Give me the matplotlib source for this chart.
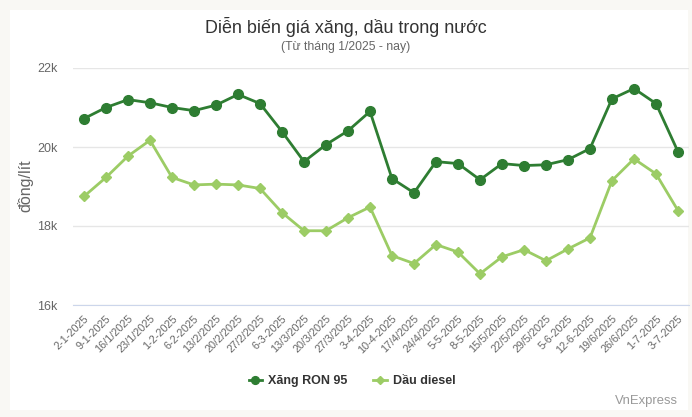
import matplotlib.pyplot as plt
from matplotlib.patches import Rectangle

dates = ["2-1-2025", "9-1-2025", "16/1/2025", "23/1/2025", "1-2-2025", "6-2-2025",
         "13/2/2025", "20/2/2025", "27/2/2025", "6-3-2025", "13/3/2025", "20/3/2025",
         "27/3/2025", "3-4-2025", "10-4-2025", "17/4/2025", "24/4/2025", "5-5-2025",
         "8-5-2025", "15/5/2025", "22/5/2025", "29/5/2025", "5-6-2025", "12-6-2025",
         "19/6/2025", "26/6/2025", "1-7-2025", "3-7-2025"]
ron95 = [20720, 21000, 21200, 21120, 21000, 20920, 21060, 21330, 21100, 20390,
         19630, 20060, 20410, 20900, 19200, 18840, 19630, 19580, 19170, 19580,
         19530, 19550, 19680, 19960, 21220, 21480, 21100, 19880]
diesel = [18750, 19230, 19770, 20170, 19230, 19040, 19060, 19040, 18950, 18340,
          17880, 17880, 18210, 18480, 17250, 17050, 17530, 17340, 16790, 17220,
          17400, 17120, 17420, 17700, 19150, 19700, 19320, 18390]
yticks = [16000, 18000, 20000, 22000]

plt.rcParams['font.family'] = ['Liberation Sans', 'DejaVu Sans']
dark = '#2e7d32'
light = '#9ccc65'

fig = plt.figure(figsize=(6.92, 4.17), dpi=100)
fig.patch.set_facecolor('#f9f8f4')
fig.patches.append(Rectangle((10 / 692, 1 - 410 / 417), 678 / 692, 400 / 417,
                             transform=fig.transFigure, facecolor='white',
                             edgecolor='none', zorder=-10))

ax = fig.add_axes([73 / 692, 1 - 305 / 417, 616 / 692, 237 / 417])
ax.set_facecolor('none')
x = list(range(len(dates)))
ax.plot(x, ron95, color=dark, lw=2, marker='o', ms=7, label='Xăng RON 95', zorder=3)
ax.plot(x, diesel, color=light, lw=2, marker='D', ms=5, label='Dầu diesel', zorder=3)

ax.set_xlim(-0.5, len(dates) - 0.5)
ax.set_ylim(16000, 22000)
ax.set_yticks(yticks)
ax.set_yticklabels([f"{v // 1000}k" for v in yticks])
ax.grid(axis='y', color='#e6e6e6', lw=1)
ax.set_axisbelow(True)
for s in ['top', 'right', 'left']:
    ax.spines[s].set_visible(False)
ax.spines['bottom'].set_color('#ccd6eb')
ax.set_xticks(x)
ax.set_xticklabels(dates, rotation=45, ha='right', rotation_mode='anchor')
ax.tick_params(axis='x', length=0, pad=6, labelsize=7.8, colors='#666666')
ax.tick_params(axis='y', length=0, pad=11, labelsize=9, colors='#666666')
fig.text(25 / 692, 1 - 186 / 417, 'đồng/lít', rotation=90, ha='center', va='center',
         fontsize=11.5, color='#666666')

fig.text(0.5, 1 - 27 / 417, 'Diễn biến giá xăng, dầu trong nước', ha='center',
         va='center', fontsize=12.9, color='#333333')
fig.text(0.5, 1 - 47 / 417, '(Từ tháng 1/2025 - nay)', ha='center', va='center',
         fontsize=8.8, color='#666666')

leg = fig.legend(loc='center', bbox_to_anchor=(352 / 692, 1 - 381 / 417), ncol=2,
                 frameon=False, prop={'weight': 'bold', 'size': 9},
                 handlelength=1.1, handletextpad=0.5, columnspacing=2.0,
                 markerscale=0.8)
for t in leg.get_texts():
    t.set_color('#333333')
fig.text(678 / 692, 1 - 401 / 417, 'VnExpress', ha='right', va='center',
         fontsize=9.4, color='#999999')

fig.savefig('out.png', dpi=100)
